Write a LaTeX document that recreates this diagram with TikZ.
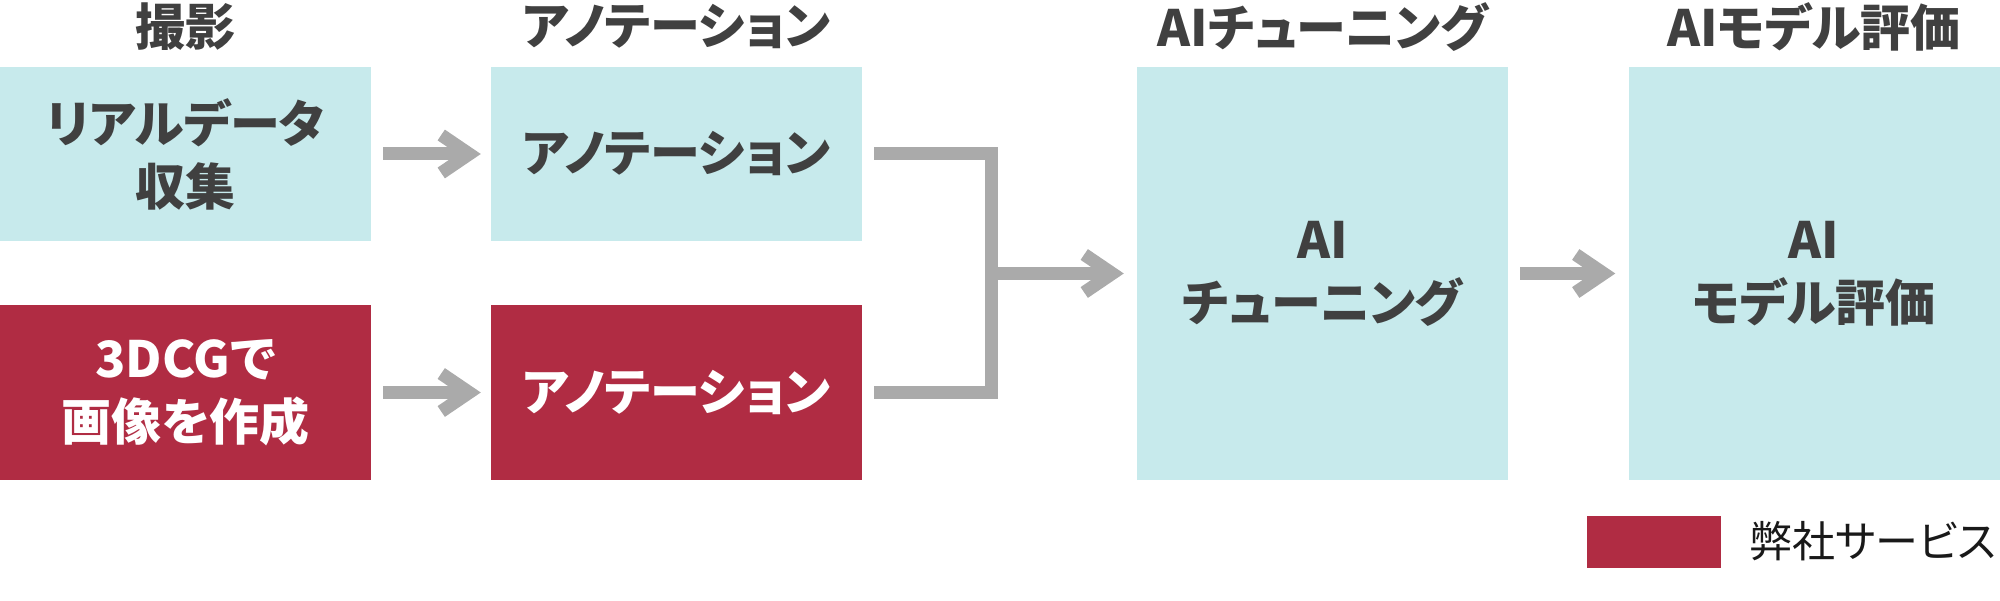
\documentclass[tikz,border=0pt]{standalone}
\usepackage{fontspec}
\newfontfamily\jpfont[RawFeature=+palt]{Noto Sans CJK JP}
\usetikzlibrary{arrows.meta}

\definecolor{boxblue}{HTML}{C7EAEC}
\definecolor{ourred}{HTML}{B02C43}
\definecolor{arrowgray}{HTML}{AAAAAA}
\definecolor{textgray}{HTML}{404040}

\begin{document}
\begin{tikzpicture}[x=1pt, y=-1pt,
    stage/.style={fill=boxblue, text=textgray, minimum width=371pt, minimum height=174pt,
      inner sep=0pt, align=center, font=\jpfont\bfseries\fontsize{50}{63}\selectfont},
    ours/.style={stage, fill=ourred, text=white},
    heading/.style={text=textgray, inner sep=0pt, font=\jpfont\bfseries\fontsize{50}{63}\selectfont},
    flow/.style={draw=arrowgray, line width=13pt, shorten <=12pt},
    tip/.style={flow, -{Straight Barb[length=28pt, width=38pt]}},
  ]
  \useasboundingbox (0,0) rectangle (2000,601);

  % column headings
  \node[heading] (hshot) at (185.5,27) {撮影};
  \node[heading] (hann) at (676.5,27) {アノテーション};
  \node[heading] (htune) at (1322.5,27) {AIチューニング};
  \node[heading] (heval) at (1814,27) {AIモデル評価};

  % boxes
  \node[stage] (real) at (185.5,154) {リアルデータ\\収集};
  \node[stage] (annreal) at (676.5,154) {アノテーション};
  \node[ours] (cg) at (185.5,392.5) {3DCGで\\画像を作成};
  \node[ours] (anncg) at (676.5,392.5) {アノテーション};
  \node[stage, minimum height=413pt] (tune) at (1322.5,273.5) {AI\\チューニング};
  \node[stage, minimum height=413pt] (eval) at (1814,273.5) {AI\\モデル評価};

  % legend
  \node[fill=ourred, minimum width=134pt, minimum height=52pt, inner sep=0pt] (key) at (1654,542) {};
  \node[anchor=west, inner sep=0pt, text=black!90, font=\jpfont\fontsize{43}{50}\selectfont] (keytext) at (1749,541) {弊社サービス};

  % arrows
  \coordinate (join) at (991,273.5);
  \draw[tip, shorten >=10pt] (real) -- (annreal);
  \draw[tip, shorten >=10pt] (cg) -- (anncg);
  \draw[flow, shorten >=12pt, line join=miter] (annreal) -| (join) |- (anncg);
  \draw[tip, shorten <=0pt, shorten >=13pt] (join) -- (tune);
  \draw[tip, shorten >=13pt] (tune) -- (eval);
\end{tikzpicture}
\end{document}
